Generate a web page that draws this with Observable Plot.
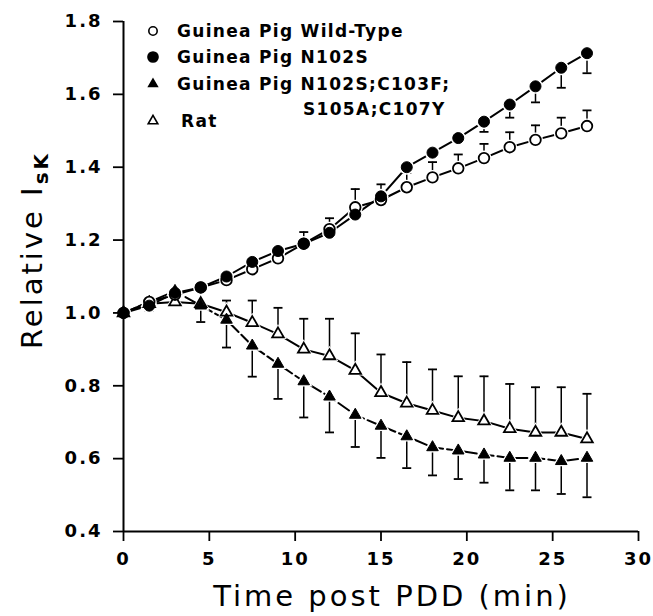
<!DOCTYPE html>
<html>
<head>
<meta charset="utf-8">
<script src="https://cdn.jsdelivr.net/npm/d3@7"></script>
<script src="https://cdn.jsdelivr.net/npm/@observablehq/plot@0.6"></script>
<style>
  html, body { margin: 0; padding: 0; background: #fff; }
  #chart svg g[aria-label="y-axis tick label"] text,
  #chart svg g[aria-label="x-axis tick label"] text { letter-spacing: 2px; }
</style>
</head>
<body>
<div id="chart"></div>
<script>
// ---- data ----
const times = [0, 1.5, 3, 4.5, 6, 7.5, 9, 10.5, 12, 13.5, 15, 16.5, 18, 19.5, 21, 22.5, 24, 25.5, 27];

const wildType      = [1.00, 1.03, 1.05, 1.07, 1.09, 1.12, 1.15, 1.19, 1.23, 1.29, 1.31, 1.345, 1.372, 1.397, 1.425, 1.455, 1.475, 1.493, 1.513];
const wildTypeErrHi = [null, null, null, null, null, null, null, 1.222, 1.26, 1.34, 1.353, 1.384, 1.414, 1.435, 1.464, 1.496, 1.515, 1.536, 1.556];

const n102s      = [1.00, 1.02, 1.055, 1.07, 1.10, 1.14, 1.17, 1.19, 1.22, 1.27, 1.32, 1.40, 1.44, 1.48, 1.525, 1.572, 1.622, 1.673, 1.713];
const n102sErrLo = [null, 1.005, null, null, null, null, null, null, null, null, null, null, null, null, 1.497, 1.536, 1.578, 1.618, 1.658];

const quad      = [1.00, 1.03, 1.06, 1.02, 0.981, 0.91, 0.86, 0.812, 0.77, 0.72, 0.69, 0.661, 0.631, 0.622, 0.611, 0.602, 0.602, 0.593, 0.602];
const quadErrLo = [null, null, null, 0.975, 0.905, 0.825, 0.764, 0.713, 0.672, 0.632, 0.602, 0.574, 0.554, 0.544, 0.534, 0.513, 0.513, 0.503, 0.494];

const rat      = [1.00, 1.025, 1.03, 1.025, 1.002, 0.973, 0.942, 0.90, 0.882, 0.842, 0.781, 0.752, 0.732, 0.712, 0.703, 0.682, 0.672, 0.672, 0.654];
const ratErrHi = [null, null, null, null, 1.034, 1.034, 1.014, 0.984, 0.984, 0.944, 0.886, 0.865, 0.845, 0.826, 0.826, 0.805, 0.796, 0.796, 0.778];

const xTicks = [0, 5, 10, 15, 20, 25, 30];
const yTicks = [0.4, 0.6, 0.8, 1.0, 1.2, 1.4, 1.6, 1.8];

const seriesNames = ["Guinea Pig Wild-Type", "Guinea Pig N102S", "Guinea Pig N102S;C103F;", "Rat"];
const seriesNameLine2 = "S105A;C107Y";
const xLabel = "Time post PDD (min)";
const yLabelMain = "Relative I";
const yLabelSub = "sK";

// ---- build tables ----
function table(values, errs) {
  return times.map((t, i) => ({t, v: values[i], e: errs[i]}));
}
const wtRows = table(wildType, wildTypeErrHi);
const nRows = table(n102s, n102sErrLo);
const qRows = table(quad, quadErrLo);
const rRows = table(rat, ratErrHi);
const errRows = [...wtRows, ...nRows, ...qRows, ...rRows].filter(d => d.e != null);

const capSymbol = {
  draw(ctx, size) {
    const r = Math.sqrt(size / Math.PI);
    ctx.moveTo(-r, 0);
    ctx.lineTo(r, 0);
  }
};

const FONT = "DejaVu Sans";

const svg = Plot.plot({
  width: 653,
  height: 616,
  marginLeft: 123,
  marginRight: 15,
  marginTop: 21,
  marginBottom: 85,
  style: {fontFamily: FONT, fontSize: "18px", fontWeight: "bold", color: "#000", background: "#fff"},
  x: {domain: [0, 30]},
  y: {domain: [0.4, 1.8]},
  marks: [
    // error bars
    Plot.ruleX(errRows, {x: "t", y1: "v", y2: "e", stroke: "#000", strokeWidth: 1.5}),
    Plot.dot(errRows, {x: "t", y: "e", symbol: capSymbol, r: 4.5, stroke: "#000", strokeWidth: 1.8}),
    // lines
    Plot.line(wtRows, {x: "t", y: "v", stroke: "#000", strokeWidth: 2}),
    Plot.line(nRows, {x: "t", y: "v", stroke: "#000", strokeWidth: 2}),
    Plot.line(qRows, {x: "t", y: "v", stroke: "#000", strokeWidth: 2, strokeDasharray: "13,4"}),
    Plot.line(rRows, {x: "t", y: "v", stroke: "#000", strokeWidth: 2}),
    // white halos
    Plot.dot(rRows, {x: "t", y: "v", symbol: "triangle", r: 6.5, fill: "#fff"}),
    Plot.dot(qRows, {x: "t", y: "v", symbol: "triangle", r: 6.5, fill: "#fff"}),
    Plot.dot(wtRows, {x: "t", y: "v", r: 7.5, fill: "#fff"}),
    Plot.dot(nRows, {x: "t", y: "v", r: 7.5, fill: "#fff"}),
    // markers
    Plot.dot(rRows, {x: "t", y: "v", symbol: "triangle", r: 4.3, fill: "#fff", stroke: "#000", strokeWidth: 1.8}),
    Plot.dot(qRows, {x: "t", y: "v", symbol: "triangle", r: 4.3, fill: "#000", stroke: "#000", strokeWidth: 1}),
    Plot.dot(wtRows, {x: "t", y: "v", r: 5.3, fill: "#fff", stroke: "#000", strokeWidth: 1.8}),
    Plot.dot(nRows, {x: "t", y: "v", r: 5.5, fill: "#000", stroke: "#000", strokeWidth: 1}),
    // axes
    Plot.axisY({ticks: yTicks, tickSize: 10, tickPadding: 11, tickFormat: d3.format(".1f"), label: null, strokeWidth: 1.8}),
    Plot.axisX({ticks: xTicks, tickSize: 10, tickPadding: 11, tickFormat: d3.format("d"), label: null, strokeWidth: 1.8}),
    Plot.ruleX([0], {stroke: "#000", strokeWidth: 2}),
    Plot.ruleY([0.4], {stroke: "#000", strokeWidth: 2})
  ]
});

const s = d3.select(svg);

// axis titles
s.append("text")
  .attr("x", 392).attr("y", 606)
  .attr("text-anchor", "middle")
  .style("font-family", FONT).style("font-size", "29px").style("font-weight", "normal")
  .style("letter-spacing", "3px")
  .attr("fill", "#000")
  .text(xLabel);

const yt = s.append("text")
  .attr("transform", "translate(42,250) rotate(-90)")
  .attr("text-anchor", "middle")
  .style("font-family", FONT).style("font-size", "29px").style("font-weight", "normal")
  .style("letter-spacing", "3px")
  .attr("fill", "#000");
yt.append("tspan").text(yLabelMain);
yt.append("tspan").attr("dy", 6).style("font-size", "20px").style("font-weight", "bold").text(yLabelSub);

// legend
const lg = s.append("g").style("font-family", FONT).style("font-size", "17px").style("font-weight", "bold").attr("text-anchor", "start");
const rowsY = [31, 57, 84, 121];
const symbols = [
  {type: d3.symbolCircle, size: 55, fill: "#fff"},
  {type: d3.symbolCircle, size: 80, fill: "#000"},
  {type: d3.symbolTriangle, size: 32, fill: "#000"},
  {type: d3.symbolTriangle, size: 40, fill: "#fff"}
];
seriesNames.forEach((name, i) => {
  lg.append("path")
    .attr("d", d3.symbol(symbols[i].type, symbols[i].size)())
    .attr("transform", `translate(153,${rowsY[i]})`)
    .attr("fill", symbols[i].fill).attr("stroke", "#000").attr("stroke-width", 1.6);
  lg.append("text")
    .attr("x", i === 3 ? 181 : 177).attr("y", rowsY[i] + 6)
    .attr("text-anchor", "start")
    .style("letter-spacing", "1.3px")
    .attr("fill", "#000")
    .text(name);
});
lg.append("text").attr("x", 303).attr("y", 109 + 6).attr("text-anchor", "start")
  .style("letter-spacing", "1.3px").attr("fill", "#000").text(seriesNameLine2);

document.getElementById("chart").appendChild(svg);
</script>
</body>
</html>
